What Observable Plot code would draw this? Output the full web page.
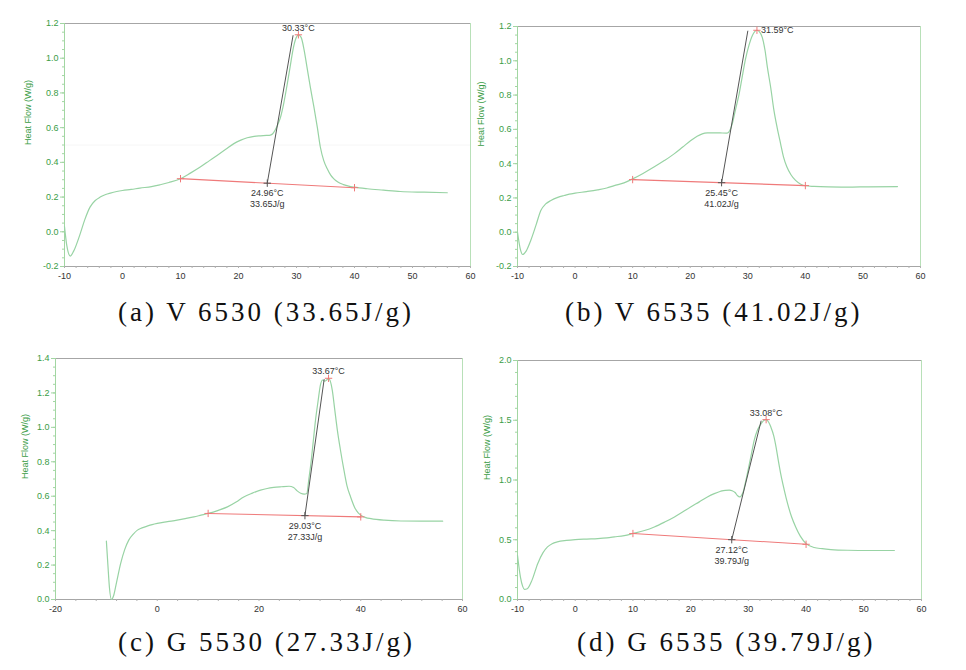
<!DOCTYPE html>
<html><head><meta charset="utf-8">
<script src="https://cdn.jsdelivr.net/npm/d3@7"></script>
<script src="https://cdn.jsdelivr.net/npm/@observablehq/plot@0.6"></script>
<style>
body{margin:0;background:#fff;}
#root{position:relative;width:966px;height:670px;overflow:hidden;background:#fff;}
.panel{position:absolute;}
.cap{position:absolute;font-family:"Liberation Serif",serif;font-size:27px;letter-spacing:3px;color:#111;white-space:nowrap;line-height:30px;}
</style></head><body><div id="root"></div><script>
// ---------- data ----------
const yLabel = "Heat Flow (W/g)";
const captions = ["(a) V 6530 (33.65J/g)", "(b) V 6535 (41.02J/g)", "(c) G 5530 (27.33J/g)", "(d) G 6535 (39.79J/g)"];

const aT = [-10,-9.6,-9.0,-8.4,-7.3,-6.5,-5.6,-4.7,-3.85,-2.9,-2.1,-1,0,1.5,3,5,6.5,8,10,11.7,13.4,15,16.3,17.8,19.2,20.4,21.5,22.7,23.8,24.8,25.5,25.9,26.3,26.8,27.2,27.8,28.4,28.9,29.4,29.9,30.33,30.8,31.3,31.8,32.4,33,33.6,34.1,34.7,35.3,35.9,36.4,37.2,38.1,39,40,42.2,45,47.9,52,56];
const aH = [0.03,-0.08,-0.14,-0.11,-0.012,0.07,0.142,0.18,0.20,0.215,0.223,0.232,0.238,0.244,0.252,0.26,0.271,0.284,0.306,0.338,0.373,0.41,0.44,0.475,0.508,0.528,0.542,0.55,0.553,0.555,0.557,0.565,0.585,0.62,0.655,0.74,0.85,0.95,1.05,1.115,1.135,1.12,1.05,0.95,0.83,0.72,0.6,0.49,0.41,0.363,0.326,0.306,0.285,0.272,0.263,0.257,0.248,0.24,0.232,0.228,0.225];

const bT = [-10,-9.5,-9.1,-8.5,-7.7,-6.8,-5.95,-5.1,-4.2,-3,-1.9,-1,0,2,3.9,5.5,6.8,8.5,10,11.8,13.7,15.5,17.2,18.7,20.1,21.2,22.1,23,24.1,25.2,26.4,26.9,27.3,27.9,28.5,29,29.6,30.2,30.8,31.2,31.59,32.0,32.5,33.0,33.4,34.0,34.5,35.1,35.7,36.2,36.8,37.5,38.3,39.2,40,41.5,44,47.3,51,56];
const bH = [0.0,-0.1,-0.13,-0.11,-0.048,0.04,0.127,0.165,0.185,0.203,0.214,0.222,0.228,0.237,0.247,0.258,0.272,0.288,0.311,0.343,0.38,0.418,0.457,0.497,0.535,0.56,0.574,0.579,0.58,0.579,0.578,0.595,0.632,0.72,0.807,0.9,1.01,1.09,1.148,1.17,1.178,1.17,1.138,1.06,0.963,0.84,0.72,0.61,0.516,0.44,0.38,0.335,0.302,0.28,0.271,0.267,0.264,0.263,0.265,0.266];

const cT = [-10,-9.7,-9.4,-9.0,-8.6,-8.0,-7.2,-6.4,-5.6,-4.7,-3.9,-3,-2,-1,0,2,3.9,5.5,7.2,8.6,10,12,13.8,15.5,17,18.7,20.3,21.6,22.9,24.4,25.9,26.8,27.5,28.2,28.9,29.4,29.8,30.2,30.6,31.1,31.6,32.1,32.5,32.9,33.3,33.67,34.0,34.4,34.9,35.4,36,36.7,37.3,38,38.8,39.5,40,41,42,44.6,47.9,52,56.1];
const cH = [0.339,0.2,0.07,0.0,0.02,0.1,0.209,0.29,0.345,0.38,0.403,0.416,0.426,0.435,0.442,0.452,0.461,0.47,0.48,0.49,0.5,0.518,0.538,0.566,0.596,0.618,0.635,0.645,0.651,0.655,0.658,0.65,0.631,0.617,0.612,0.616,0.7,0.79,0.9,1.04,1.15,1.25,1.275,1.268,1.275,1.285,1.27,1.216,1.1,0.984,0.87,0.751,0.66,0.596,0.535,0.503,0.49,0.476,0.47,0.461,0.456,0.455,0.455];

const dT = [-10,-9.5,-9.1,-8.8,-8.3,-7.5,-6.5,-5.6,-4.8,-4,-3.1,-1.5,0,2,3.9,5.5,6.8,8.5,10,12,13.7,15.5,17.2,18.6,20,21.5,22.9,24.1,25.2,26,26.7,27.2,27.7,28.1,28.5,28.8,29.1,29.5,29.9,30.5,31,31.6,32.2,32.6,33.08,33.5,33.9,34.4,34.8,35.2,35.6,36.2,36.8,37.5,38.2,39,40,41.4,42.8,44.3,47.2,51,55.3];
const dH = [0.37,0.19,0.11,0.085,0.09,0.16,0.3,0.39,0.44,0.467,0.482,0.494,0.501,0.506,0.51,0.516,0.524,0.535,0.552,0.577,0.607,0.648,0.691,0.732,0.774,0.817,0.858,0.886,0.906,0.914,0.915,0.91,0.895,0.87,0.858,0.87,0.9,0.98,1.07,1.21,1.33,1.42,1.47,1.495,1.505,1.485,1.443,1.37,1.276,1.16,1.053,0.92,0.802,0.69,0.607,0.53,0.468,0.435,0.425,0.418,0.412,0.41,0.41];

// baseline [t0, h0, t1, h1]
const aBase = [10, 0.306, 40, 0.254], bBase = [10, 0.307, 40, 0.272], cBase = [10, 0.50, 40, 0.48], dBase = [10, 0.552, 40, 0.462];
const onsetTemps = [24.96, 25.45, 29.03, 27.12];
const enthalpies = ["33.65J/g", "41.02J/g", "27.33J/g", "39.79J/g"];
const tangentEnds = [[29.4, 1.13], [30.0, 1.173], [32.8, 1.278], [32.2, 1.493]];
const peaks = [[30.33, 1.135], [31.59, 1.178], [33.67, 1.285], [33.08, 1.505]];

const xTicks10 = [-10,0,10,20,30,40,50,60];
const xTicks20 = [-20,0,20,40,60];
const yTicksA = [-0.2,0,0.2,0.4,0.6,0.8,1.0,1.2];
const yTicksC = [0,0.2,0.4,0.6,0.8,1.0,1.2,1.4];
const yTicksD = [0,0.5,1.0,1.5,2.0];

// ---------- drawing ----------
const green = "#3a9c46";
const curveColor = "#98d3a4";
const red = "#ef7a7a";
const dark = "#555";

function range(a, b, s){ const r=[]; for(let i=0;;i++){const v=+(a+i*s).toFixed(4); if(v>b+1e-9)break; r.push(v);} return r; }

function panel(p){
  const pts = p.T.map((t,i)=>({t, h:p.H[i]}));
  const base = [{t:p.base[0], h:p.base[1]}, {t:p.base[2], h:p.base[3]}];
  const interp = t => p.base[1] + (t - p.base[0])/(p.base[2]-p.base[0])*(p.base[3]-p.base[1]);
  const onset = {t:p.onset, h:interp(p.onset)};
  const tangent = [onset, {t:p.tanEnd[0], h:p.tanEnd[1]}];
  const peak = {t:p.peak[0], h:p.peak[1]};
  const xd = [p.xTicks[0], p.xTicks[p.xTicks.length-1]];
  const yd = [p.yTicks[0], p.yTicks[p.yTicks.length-1]];
  const peakText = p.peak[0].toFixed(2) + "°C";
  const onsetText = p.onset.toFixed(2) + "°C\n" + p.enth;
  return Plot.plot({
    width:p.w, height:p.h,
    marginLeft:p.ml, marginRight:10, marginTop:p.mt, marginBottom:p.mb,
    style:{background:"transparent", overflow:"visible", fontFamily:"'Liberation Sans', Arial, sans-serif"},
    x:{domain:xd}, y:{domain:yd},
    marks:[
      p.faint != null ? Plot.ruleY([p.faint], {stroke:"#f6f6f6"}) : null,
      Plot.ruleY([yd[1]], {stroke:"#a6a6a6"}),
      Plot.ruleY([yd[0]], {stroke:"#a6a6a6"}),
      Plot.ruleX([xd[1]], {stroke:"#b8e0b8"}),
      Plot.ruleX([xd[0]], {stroke:"#a2d6a2"}),
      Plot.axisY({ticks:p.yMinor, tickSize:2, tickFormat:()=>"", stroke:"#a2d6a2", label:null}),
      Plot.axisY({ticks:p.yTicks, tickSize:4, tickPadding:2, tickFormat:d=>d.toFixed(1), stroke:"#a2d6a2", fill:green, fontSize:9, label:null}),
      Plot.axisX({ticks:p.xMinor, tickSize:2, tickFormat:()=>"", stroke:"#b0b0b0", label:null}),
      Plot.axisX({ticks:p.xTicks, tickSize:0, tickPadding:6, tickFormat:d=>String(d), fill:"#333", fontSize:9, label:null}),
      Plot.text([yLabel], {frameAnchor:"left", rotate:-90, dx:p.ylDx, fill:green, fontSize:9}),
      Plot.line(pts, {x:"t", y:"h", stroke:curveColor, strokeWidth:1.2, curve:"monotone-x"}),
      Plot.line(base, {x:"t", y:"h", stroke:red, strokeWidth:1.1}),
      Plot.line(tangent, {x:"t", y:"h", stroke:dark, strokeWidth:1}),
      Plot.dot([base[0], base[1], peak], {x:"t", y:"h", symbol:"plus", r:2.5, stroke:red, strokeWidth:1}),
      Plot.dot([onset], {x:"t", y:"h", symbol:"plus", r:2.5, stroke:dark, strokeWidth:1}),
      Plot.text([onset], {x:"t", y:"h", text:()=>onsetText, lineAnchor:"top", lineHeight:1.25, dy:5, fill:"#333", fontSize:9}),
      p.peakRight
        ? Plot.text([peak], {x:"t", y:"h", text:()=>peakText, textAnchor:"start", dx:4, fill:"#333", fontSize:9})
        : Plot.text([peak], {x:"t", y:"h", text:()=>peakText, lineAnchor:"bottom", dy:-4, fill:"#333", fontSize:9})
    ]
  });
}

const root = document.getElementById("root");
const specs = [
  {T:aT, H:aH, base:aBase, i:0, xTicks:xTicks10, xMinor:range(-10,60,2), yTicks:yTicksA, yMinor:range(-0.2,1.2,0.05),
   left:0, top:0, w:480, h:290, ml:64, mt:23, mb:24, ylDx:-36, faint:0.5},
  {T:bT, H:bH, base:bBase, i:1, xTicks:xTicks10, xMinor:range(-10,60,2), yTicks:yTicksA, yMinor:range(-0.2,1.2,0.05),
   left:470, top:0, w:460, h:290, ml:47, mt:26, mb:24, ylDx:-36, peakRight:true},
  {T:cT, H:cH, base:cBase, i:2, xTicks:xTicks20, xMinor:range(-20,60,4), yTicks:yTicksC, yMinor:range(0,1.4,0.05),
   left:0, top:330, w:472, h:295, ml:55, mt:28, mb:26, ylDx:-30},
  {T:dT, H:dH, base:dBase, i:3, xTicks:xTicks10, xMinor:range(-10,60,2), yTicks:yTicksD, yMinor:range(0,2,0.1),
   left:470, top:330, w:461, h:295, ml:47, mt:30, mb:26, ylDx:-30}
];
for (const s of specs) {
  s.onset = onsetTemps[s.i]; s.enth = enthalpies[s.i]; s.tanEnd = tangentEnds[s.i]; s.peak = peaks[s.i];
  const div = document.createElement("div");
  div.className = "panel";
  div.style.left = s.left + "px"; div.style.top = s.top + "px";
  div.appendChild(panel(s));
  root.appendChild(div);
}
const capPos = [[118, 297], [565, 297], [118, 627], [577, 627]];
captions.forEach((c, i) => {
  const d = document.createElement("div");
  d.className = "cap";
  d.textContent = c;
  d.style.left = capPos[i][0] + "px"; d.style.top = capPos[i][1] + "px";
  root.appendChild(d);
});
</script></body></html>
